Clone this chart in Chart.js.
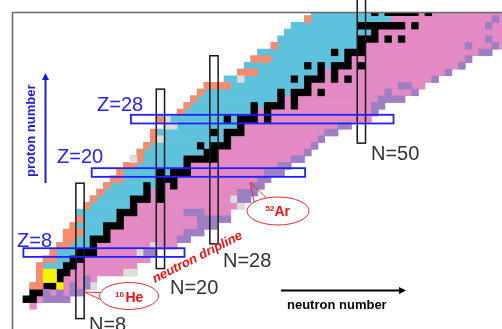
<!DOCTYPE html>
<html><head><meta charset="utf-8">
<script src="https://cdn.jsdelivr.net/npm/chart.js@4"></script>
<style>html,body{margin:0;padding:0;background:#fff}#wrap{width:502px;height:329px;position:relative}</style>
</head><body><div id="wrap"><canvas id="c"></canvas></div>
<script>
// ---- data: proton number Z (rows) and neutron number N (columns) ----
const protonNumbers = [0,1,2,3,4,5,6,7,8,9,10,11,12,13,14,15,16,17,18,19,20,21,22,23,24,25,26,27,28,29,30,31,32,33,34,35,36,37,38,39,40,41,42,43,44];
// first / last neutron number shown for each Z (index = Z)
const firstN = [1,0,1,1,2,2,2,3,4,5, 6,6,7,8,8,9,10,11,12,13, 14,15,16,17,18,19,19,21,20,23, 24,25,26,27,30,32,33,34,35,37, 38,39,40,42,43];
const lastN  = [1,6,8,10,10,16,16,18,19,22, 24,26,28,30,30,32,33,34,35,36, 38,39,41,42,43,44,46,48,51,52, 53,56,58,59,61,63,65,66,69,72, 72,72,72,72,72];
// last neutron number on the proton-rich (beta+) side for each Z
const lastBlueN = [0,1,2,4,5,6,7,8,10,10, 12,12,14,14,16,16,18,18,19,22, 21,23,23,26,27,29,29,31,31,33, 35,37,39,41,41,43,45,47,47,49, 49,51,51,54,53];
// stable nuclides: neutron numbers per Z (index = Z)
const stableN = [[],[0,1],[1,2],[3,4],[5],[5,6],[6,7],[7,8],[8,9,10],[10],
 [10,11,12],[12],[12,13,14],[14],[14,15,16],[16],[16,17,18,20],[18,20],[18,20,22],[20,21,22],
 [20,22,23,24],[24],[24,25,26,27,28],[27,28],[26,28,29,30],[30],[28,30,31,32],[32],[30,32,33,34,36],[34,36],
 [34,36,37,38,40],[38,40],[38,40,41,42,44],[42],[40,42,43,44,46,48],[44,46],[42,44,46,47,48,50],[48],[46,48,49,50],[50],
 [50,51,52,54,56],[52],[50,51,52,53,54,55,56,58],[],[52,54,55,56,57,58,60]];
// [Z, N] cells with special colours
const orangeCells = [[3,1],[3,2],[4,2],[5,2],[6,2],[7,3],[7,4],[8,4],[9,5],[9,6],[10,6],[10,7],[11,6],[11,7],[11,8],[12,7],[13,8],
 [15,9],[16,10],[17,11],[18,12],[19,13],[19,14],[20,14],[21,15],[21,16],[22,17],[23,17],[24,18],[25,19],[26,19],[28,20],
 [29,23],[30,24],[31,25],[32,26],[33,27],[33,28],[33,29],[33,30],[35,32],[35,33],[35,34],[37,34],[37,35],[37,36],[39,37],[43,42]];
const grayCells = [[3,10],[5,15],[5,16],[8,17],[9,19],[15,32],[16,31],[22,16],[25,20],[27,21],[27,22],[28,21],[34,32]];
const purpleCells = [[1,3],[1,4],[1,5],[1,6],[2,3],[2,5],[2,7],[2,8],[3,7],[3,9],[4,9],[8,18],[8,19],[10,23],[10,24],[11,24],[11,25],[11,26],
 [12,26],[12,27],[12,28],[13,26],[13,27],[13,28],[13,29],[13,30],[14,24],[14,25],[14,26],[16,32],[16,33],[17,32],[17,33],[17,34],[18,34],[18,35],[19,35],[19,36],[20,36],[20,37],[20,38],
 [21,38],[21,39],[22,40],[22,41],[23,42],[24,43],[25,44],[26,45],[26,46],[27,47],[27,48],[29,52],[30,52],[30,53],
 [31,53],[31,54],[31,55],[31,56],[32,54],[32,58],[33,56],[33,57],[34,61],[35,63],[36,65],[37,66],[38,68],[38,69],
 [39,66],[39,70],[40,69],[42,69],[43,70]];
const yellowCells = [[4,3],[4,4],[5,3],[5,4],[3,5]];
// magic numbers
const magicN = [{n:8, zFrom:-1.9, zTo:18.4},{n:20, zFrom:5.6, zTo:32.5},{n:28, zFrom:9.3, zTo:37.5},{n:50, zFrom:24.4, zTo:46}];
const magicZ = [{z:8, nFrom:-0.45, nTo:23.6},{z:20, nFrom:9.75, nTo:41.6},{z:28, nFrom:15.6, nTo:54.8}];

const COL = {blue:'#5ec2dc', pink:'#e389c4', black:'#000000', orange:'#f78c6c', gray:'#dcdcdc', purple:'#9d80c4', yellow:'#f6f200'};

function cellRuns(cells){
  const byZ = {};
  cells.forEach(([z,n])=>{ (byZ[z] = byZ[z] || []).push(n); });
  const out = [];
  Object.keys(byZ).forEach(k=>{
    const z = +k; const ns = byZ[k].slice().sort((a,b)=>a-b);
    let a = ns[0], b = ns[0];
    for (let i=1;i<=ns.length;i++){
      if (i<ns.length && ns[i]===b+1){ b = ns[i]; continue; }
      out.push({y:z, x:[a-0.5, b+0.5]});
      if (i<ns.length){ a = b = ns[i]; }
    }
  });
  return out;
}
const blueRuns = [], pinkRuns = [];
protonNumbers.forEach(z=>{
  const f = firstN[z], l = lastN[z], bEnd = Math.min(lastBlueN[z], l);
  if (bEnd >= f) blueRuns.push({y:z, x:[f-0.5, bEnd+0.5]});
  const pStart = Math.max(lastBlueN[z]+1, f);
  if (l >= pStart) pinkRuns.push({y:z, x:[pStart-0.5, l+0.5]});
});
const stableCells = [];
protonNumbers.forEach(z=>stableN[z].forEach(n=>stableCells.push([z,n])));

function ds(label, data, color, order){
  return {label, data, backgroundColor:color, borderWidth:0, grouped:false, order,
          barPercentage:1, categoryPercentage:1};
}

const annot = {
  id:'annot',
  afterDatasetsDraw(chart){
    const ctx = chart.ctx, xs = chart.scales.x, ys = chart.scales.y;
    const px = v=>xs.getPixelForValue(v), py = v=>ys.getPixelForValue(v);
    ctx.save();
    // frame
    ctx.strokeStyle = '#6a6a6a'; ctx.lineWidth = 1.6;
    ctx.beginPath(); ctx.moveTo(12.5, 330); ctx.lineTo(12.5, 12.5); ctx.lineTo(503, 12.5); ctx.stroke();
    // magic N boxes
    ctx.strokeStyle = '#1a1a1a'; ctx.lineWidth = 1.5;
    magicN.forEach(m=>{
      const x0 = px(m.n-0.62), x1 = px(m.n+0.62), y0 = py(m.zTo), y1 = py(m.zFrom);
      ctx.strokeRect(x0, y0, x1-x0, y1-y0);
    });
    // magic Z boxes
    ctx.strokeStyle = '#1f1fff'; ctx.lineWidth = 1.8;
    magicZ.forEach(m=>{
      const x0 = px(m.nFrom), x1 = px(m.nTo), y0 = py(m.z+0.65), y1 = py(m.z-0.65);
      ctx.strokeRect(x0, y0, x1-x0, y1-y0);
    });
    // labels
    ctx.textBaseline = 'alphabetic';
    ctx.font = '20px "Liberation Sans", Arial, sans-serif';
    ctx.fillStyle = '#2222f2';
    ctx.fillText('Z=28', 97, 111);
    ctx.fillText('Z=20', 57, 163);
    ctx.fillText('Z=8', 17, 247);
    ctx.fillStyle = '#333333';
    ctx.fillText('N=50', 371, 159.5);
    ctx.fillText('N=28', 223, 267);
    ctx.fillText('N=20', 170, 293.5);
    ctx.fillText('N=8', 89, 330.5);
    // proton number axis
    ctx.fillStyle = '#1a1ae6'; ctx.strokeStyle = '#1a1ae6'; ctx.lineWidth = 2;
    ctx.beginPath(); ctx.moveTo(45.5, 183); ctx.lineTo(45.5, 78); ctx.stroke();
    ctx.beginPath(); ctx.moveTo(45.5, 73); ctx.lineTo(42, 80); ctx.lineTo(49, 80); ctx.closePath(); ctx.fill();
    ctx.save(); ctx.translate(35, 177); ctx.rotate(-Math.PI/2);
    ctx.font = 'bold 13px "Liberation Sans", Arial, sans-serif';
    ctx.fillText('proton number', 0, 0); ctx.restore();
    // neutron number axis
    ctx.fillStyle = '#000'; ctx.strokeStyle = '#000';
    ctx.beginPath(); ctx.moveTo(281, 290.5); ctx.lineTo(400, 290.5); ctx.stroke();
    ctx.beginPath(); ctx.moveTo(406, 290.5); ctx.lineTo(399, 287); ctx.lineTo(399, 294); ctx.closePath(); ctx.fill();
    ctx.font = 'bold 13px "Liberation Sans", Arial, sans-serif';
    ctx.fillText('neutron number', 287, 308.5);
    // neutron dripline
    ctx.save(); ctx.translate(155, 283); ctx.rotate(-27*Math.PI/180);
    ctx.fillStyle = '#ee1111';
    ctx.font = 'italic bold 13px "Liberation Sans", Arial, sans-serif';
    ctx.fillText('neutron dripline', 0, 0); ctx.restore();
    // callouts
    function callout(cx, cy, rx, ry, tip, a1, a2){
      ctx.strokeStyle = '#ee2a2a'; ctx.lineWidth = 1; ctx.fillStyle = '#fff';
      const p1 = [cx+rx*Math.cos(a1), cy+ry*Math.sin(a1)], p2 = [cx+rx*Math.cos(a2), cy+ry*Math.sin(a2)];
      ctx.beginPath(); ctx.moveTo(p1[0],p1[1]); ctx.lineTo(tip[0],tip[1]); ctx.lineTo(p2[0],p2[1]); ctx.stroke();
      ctx.beginPath(); ctx.ellipse(cx, cy, rx, ry, 0, 0, Math.PI*2); ctx.fill(); ctx.stroke();
    }
    callout(129, 296, 29.5, 13.5, [84, 292], Math.PI*1.08, Math.PI*0.92);
    callout(278, 211, 31, 14, [250, 182], Math.PI*1.22, Math.PI*1.38);
    ctx.fillStyle = '#ee1111';
    ctx.font = 'bold 8px "Liberation Sans", Arial, sans-serif';
    ctx.fillText('10', 115, 297);
    ctx.fillText('52', 265.5, 210.5);
    ctx.font = 'bold 14px "Liberation Sans", Arial, sans-serif';
    ctx.fillText('He', 125.5, 302);
    ctx.fillText('Ar', 274.5, 216);
    ctx.restore();
  }
};

new Chart(document.getElementById('c'), {
  type:'bar',
  data:{ datasets:[
    ds('yellow', cellRuns(yellowCells), COL.yellow, 1),
    ds('purple', cellRuns(purpleCells), COL.purple, 1),
    ds('gray', cellRuns(grayCells), COL.gray, 1),
    ds('orange', cellRuns(orangeCells), COL.orange, 1),
    ds('stable', cellRuns(stableCells), COL.black, 1),
    ds('beta-', pinkRuns, COL.pink, 5),
    ds('beta+', blueRuns, COL.blue, 5)
  ]},
  options:{
    indexAxis:'y', responsive:true, maintainAspectRatio:false, animation:false, devicePixelRatio:1,
    layout:{padding:{left:12, top:12, right:0, bottom:0}},
    plugins:{legend:{display:false}, tooltip:{enabled:false}},
    scales:{
      x:{type:'linear', min:-2.15, max:70.99, display:false, offset:false},
      y:{type:'linear', min:-3.46, max:44.06, display:false, offset:false, grace:0}
    }
  },
  plugins:[annot]
});
</script></body></html>
